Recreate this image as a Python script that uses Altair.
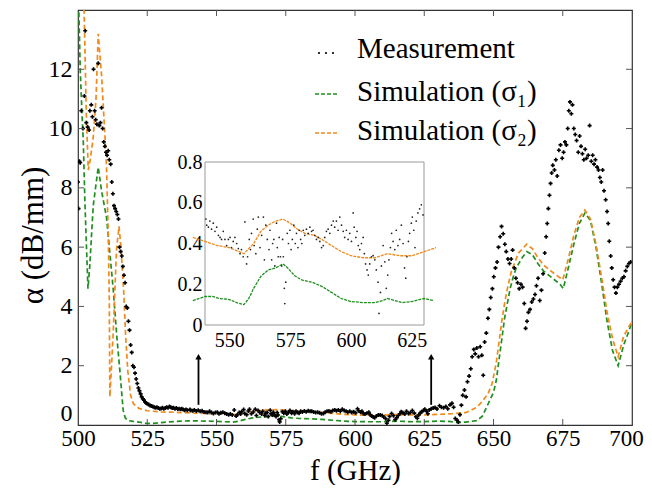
import altair as alt
import pandas as pd

# ---------------- data ----------------
# Measurement (f in GHz, alpha in dB/mm)
meas_f = [500.0, 500.2, 500.5, 500.8, 501.2, 501.8, 502.3, 502.6, 503.0, 503.5, 504.0, 504.3, 504.8, 505.2, 505.6,
          506.0, 506.4, 506.8, 507.3, 507.7, 508.1, 508.5, 508.9, 509.3, 509.7, 510.1, 510.5, 510.9, 511.3, 511.8,
          512.2, 512.6, 513.0, 513.4, 513.8, 514.2, 514.6, 515.0, 515.4, 515.8, 516.2, 516.6, 517.0, 517.4, 517.8,
          518.2, 518.6, 519.0, 519.4, 519.8, 520.2, 520.6, 521.0, 521.4, 521.8, 522.2, 522.6, 523.0, 523.4, 523.8,
          524.2, 524.6, 525.0, 525.5, 526.0, 526.5, 527.0, 527.5, 528.0, 528.5, 529.0, 529.5, 530.0, 530.5, 531.0,
          531.5, 532.0, 532.5, 533.0, 533.5, 534.0, 534.5, 535.0, 535.5, 536.0, 536.5, 537.0, 537.5, 538.0, 538.5,
          539.0, 539.5,
          540.4, 540.7, 541.4, 542.0, 542.7, 543.4, 544.1, 544.8, 545.5, 546.2, 546.8, 547.5, 548.2, 548.9, 549.6,
          550.3, 550.9, 551.6, 552.3, 553.0, 553.7, 554.4, 555.0, 555.7, 556.4, 557.1, 557.5, 558.2, 558.7, 559.1,
          559.8, 560.2, 560.9, 561.5, 561.9, 562.6, 563.3, 564.0, 564.4, 565.0, 565.6, 566.3, 566.7, 567.4, 567.8,
          568.3, 568.7, 569.4, 569.7, 570.1, 570.5, 571.0, 571.5, 571.9, 572.2, 572.6, 572.8, 573.2, 573.8, 574.3,
          574.9, 575.4, 575.9, 576.5, 577.1, 577.6, 578.2, 578.7, 579.3, 579.8, 580.4, 581.0, 581.7, 582.4, 583.1,
          583.8, 584.4, 585.1, 585.8, 586.5, 587.2, 587.9, 588.6, 589.2, 589.9, 590.6, 591.3, 592.0, 592.7, 593.3,
          594.0, 594.7, 595.4, 596.1, 596.8, 597.4, 598.1, 598.8, 599.5, 600.2, 600.9, 601.3, 602.0, 602.5, 603.0,
          603.6, 604.3, 605.0, 605.5, 606.0, 606.6, 607.1, 607.7, 608.4, 609.1, 609.8, 610.4, 611.1, 611.5, 612.1,
          612.5, 613.2, 613.9, 614.5, 615.1, 615.6, 616.2, 616.7, 617.3, 618.0, 618.6, 619.3, 620.0, 620.7, 621.4,
          622.0, 622.5, 623.0, 623.6, 624.1, 624.8, 625.2, 625.8, 626.3, 626.8, 627.5, 628.2, 628.9, 629.6,
          630.5, 631.2, 632.0, 632.8, 633.5, 634.3, 635.0, 635.6, 636.2, 636.8, 637.3, 637.9, 638.4, 638.9, 639.5,
          640.1, 640.6, 641.2, 641.8, 642.3, 642.9, 643.4, 644.0, 644.6, 645.2, 645.8, 646.3, 646.8, 647.4, 648.0,
          648.5, 649.0, 649.6, 650.1, 650.7, 651.3, 651.8, 652.4, 652.9, 653.5, 654.1, 654.6, 655.2, 655.8, 656.4,
          656.9, 657.5, 658.1, 658.7, 659.3, 659.9, 660.5, 661.1, 661.6, 662.1, 662.6, 663.2, 663.8, 664.4, 665.0,
          665.5, 666.1, 666.7, 667.3, 667.9, 668.5, 669.0, 669.4, 669.8, 670.2, 670.6, 671.0, 671.4, 672.0, 672.5,
          673.0, 673.6, 674.2, 674.8, 675.3, 675.8, 676.3, 676.8, 677.2, 677.6, 678.1, 678.5, 679.0, 679.5, 680.0,
          680.6, 681.1, 681.6, 682.1, 682.6, 683.1, 683.6, 684.2, 684.7, 685.3, 685.8, 686.3, 686.8, 687.4, 687.9,
          688.4, 688.9, 689.4, 689.9, 690.5, 691.0, 691.4, 691.8, 692.3, 692.7, 693.2, 693.7, 694.2, 694.7, 695.3,
          695.9, 696.5, 697.1, 697.7, 698.3, 698.9, 699.5]
meas_a = [8.2, 7.3, 8.9, 8.85, 10.6, 10.0, 11.1, 13.3, 10.2, 10.05, 9.95, 10.6, 10.8, 10.4, 12.0,
          10.6, 10.3, 10.15, 12.2, 10.1, 10.2, 10.7, 10.0, 9.55, 9.4, 9.2, 9.1, 9.25, 8.95, 8.8,
          8.2, 7.8, 7.4, 7.3, 7.2, 7.1, 6.95, 6.0, 5.85, 5.7, 5.35, 5.05, 4.8, 4.0, 3.95,
          3.5, 3.2, 2.7, 2.45, 2.0, 1.95, 1.75, 1.55, 1.4, 1.25, 1.15, 1.05, 0.95, 0.88, 0.84,
          0.78, 0.74, 0.72, 0.69, 0.66, 0.64, 0.62, 0.6, 0.58, 0.6, 0.57, 0.55, 0.56, 0.58, 0.55,
          0.57, 0.6, 0.58, 0.62, 0.6, 0.57, 0.58, 0.55, 0.57, 0.54, 0.55, 0.53, 0.55, 0.52, 0.5,
          0.52, 0.5,
          0.52, 0.49, 0.48, 0.51, 0.47, 0.50, 0.46, 0.48, 0.44, 0.43, 0.42, 0.46, 0.42, 0.39, 0.42,
          0.43, 0.38, 0.41, 0.43, 0.40, 0.375, 0.35, 0.37, 0.335, 0.506, 0.30, 0.335, 0.42, 0.37, 0.45,
          0.52, 0.39, 0.35, 0.47, 0.53, 0.38, 0.44, 0.53, 0.32, 0.49, 0.42, 0.37, 0.465, 0.32, 0.40,
          0.42, 0.29, 0.50, 0.38, 0.335, 0.43, 0.335, 0.29, 0.42, 0.335, 0.18, 0.105, 0.21, 0.45, 0.40,
          0.465, 0.37, 0.42, 0.49, 0.40, 0.45, 0.38, 0.465, 0.42, 0.40, 0.465, 0.44, 0.47, 0.45, 0.48,
          0.46, 0.465, 0.44, 0.42, 0.43, 0.41, 0.38, 0.39, 0.43, 0.46, 0.47, 0.45, 0.49, 0.51, 0.48,
          0.51, 0.465, 0.53, 0.49, 0.46, 0.43, 0.465, 0.42, 0.45, 0.41, 0.55, 0.48, 0.43, 0.46, 0.39,
          0.37, 0.40, 0.43, 0.35, 0.30, 0.27, 0.245, 0.30, 0.335, 0.34, 0.32, 0.27, 0.21, 0.057, 0.16,
          0.29, 0.39, 0.31, 0.18, 0.245, 0.32, 0.38, 0.45, 0.41, 0.37, 0.465, 0.39, 0.42, 0.49, 0.40,
          0.28, 0.23, 0.335, 0.41, 0.45, 0.50, 0.53, 0.465, 0.38, 0.51, 0.55, 0.57, 0.59, 0.54,
          0.65, 0.6, 0.58, 0.62, 0.55, 0.68, 0.73, 0.6, 0.22, 0.17, 0.1, 0.35, 0.67, 1.0, 1.18,
          0.95, 1.46, 1.65, 1.9, 2.3, 2.55, 2.4, 2.6, 2.3, 2.64, 2.35, 1.68, 2.8, 3.1, 3.6,
          3.9, 4.3, 4.6, 5.0, 5.3, 5.5, 6.0, 6.35, 6.7, 6.45, 6.1, 5.85, 5.6, 5.45, 5.6,
          5.9, 5.3, 4.95, 4.8, 4.6, 4.75, 4.65, 4.1, 3.26, 3.5, 3.8, 3.9, 4.15, 4.25, 4.4,
          4.7, 4.95, 4.2, 4.55, 5.1, 5.8, 6.35, 6.8, 7.3, 7.75, 8.15, 8.5, 8.76, 8.6, 8.95,
          8.4, 9.27, 9.45, 9.0, 9.2, 9.55, 9.45, 10.0, 10.6, 10.9, 10.5, 10.8, 10.0, 9.8, 9.6,
          9.2, 9.75, 9.4, 9.15, 8.95, 9.3, 9.0, 9.1, 10.1, 8.9, 9.1, 8.8, 8.95, 8.7, 8.6,
          8.35, 8.2, 8.6, 7.9, 7.6, 7.2, 6.8, 6.2, 5.7, 5.3, 4.9, 4.65, 4.45, 4.65, 4.75,
          4.85, 4.95, 5.0, 5.2, 5.35, 5.45, 5.5]

# Simulation (sigma_1), green
sim1_f = [500.0, 500.3, 500.8, 501.4, 501.9, 502.5, 503.1, 503.6, 504.2, 505.5, 507.3, 508.5, 510.3, 511.5,
          512.7, 514.0, 515.1, 516.3, 517.0, 518.0, 520.0, 522.0, 525.0, 528.0, 531.0, 535.0, 540.0, 543.0,
          546.0, 550.0, 553.0, 556.0, 558.0, 560.0, 563.0, 566.0, 569.0, 572.0, 574.0, 577.0, 580.0, 584.0,
          588.0, 592.0, 596.0, 600.0, 605.0, 610.0, 613.0, 615.0, 618.0, 621.0, 625.0, 630.0, 634.0, 637.0,
          640.0, 644.0, 646.0, 648.0, 650.0, 651.0, 652.0, 653.0, 654.0, 655.0, 656.0, 657.0, 658.0, 660.0,
          662.0, 664.0, 666.0, 668.0, 670.0, 672.0, 674.0, 675.2, 677.0, 679.0, 681.0, 683.0, 685.0, 687.0,
          689.0, 691.0, 693.0, 695.0, 697.0, 699.0, 700.0]
sim1_a = [15.0, 14.0, 12.0, 10.6, 9.6, 7.5, 5.9, 4.6, 5.3, 7.4, 8.7, 7.9, 7.0, 5.8,
          4.6, 3.0, 1.85, 0.5, 0.25, 0.15, 0.12, 0.1, 0.05, 0.06, 0.09, 0.12, 0.14, 0.14,
          0.13, 0.125, 0.11, 0.10, 0.13, 0.18, 0.24, 0.27, 0.28, 0.30, 0.28, 0.24, 0.22, 0.21,
          0.19, 0.16, 0.13, 0.115, 0.11, 0.11, 0.12, 0.13, 0.12, 0.11, 0.115, 0.13, 0.12, 0.08,
          0.1, 0.15, 0.3, 0.7, 1.1, 1.5, 2.2, 2.9, 3.6, 4.1, 4.6, 4.95, 5.25, 5.6,
          5.85, 5.75, 5.45, 5.2, 5.05, 4.9, 4.75, 4.6, 5.3, 6.1, 6.8, 7.15, 6.9, 6.0,
          4.8, 3.5, 2.5, 2.0, 2.7, 3.2, 3.5]

# Simulation (sigma_2), orange
sim2_f = [500.0, 501.5, 502.2, 503.0, 503.7, 504.5, 505.5, 506.5, 507.3, 508.5, 509.7, 510.3, 510.9, 511.3,
          511.5, 512.0, 512.7, 513.9, 514.8, 515.5, 516.5, 517.2, 518.0, 519.0, 520.0, 522.0, 525.0, 530.0,
          535.0, 540.0, 545.0, 550.0, 556.0, 560.0, 563.0, 566.0, 569.0, 572.0, 575.0, 578.0, 581.0, 585.0,
          588.0, 592.0, 596.0, 600.0, 605.0, 610.0, 615.0, 620.0, 625.0, 630.0, 635.0, 640.0, 642.0, 644.0,
          646.0, 648.0, 649.5, 651.0, 652.0, 653.0, 654.0, 655.0, 656.5, 659.0, 662.0, 664.0, 666.0, 668.0,
          670.0, 672.0, 675.0, 677.0, 679.0, 681.0, 683.0, 685.0, 687.0, 689.0, 691.0, 693.0, 695.0, 697.0,
          700.0]
sim2_a = [17.0, 15.5, 14.0, 10.5, 8.6, 9.0, 9.7, 11.0, 13.2, 11.8, 9.8, 8.7, 6.5, 4.2,
          0.95, 1.8, 3.1, 5.9, 6.7, 6.0, 4.5, 3.0, 1.8, 1.0, 0.72, 0.56, 0.48, 0.44,
          0.43, 0.41, 0.39, 0.38, 0.35, 0.40, 0.46, 0.49, 0.51, 0.52, 0.50, 0.47, 0.45, 0.44,
          0.42, 0.39, 0.36, 0.34, 0.33, 0.33, 0.35, 0.34, 0.34, 0.36, 0.38, 0.42, 0.5, 0.6,
          0.8, 1.05, 1.4, 2.1, 2.8, 3.5, 4.1, 4.6, 5.2, 5.8, 6.1, 5.95, 5.65, 5.4,
          5.25, 5.1, 4.9, 5.6, 6.4, 7.0, 7.25, 6.95, 6.1, 5.0, 3.8, 2.9, 2.3, 3.0,
          3.5]

series_names = ["Simulation (σ₁)", "Simulation (σ₂)"]
legend_labels = ["Measurement", "Simulation (σ₁)", "Simulation (σ₂)"]

x_ticks = [500, 525, 550, 575, 600, 625, 650, 675, 700]
y_ticks = [0, 2, 4, 6, 8, 10, 12]
inset_x_ticks = [550, 575, 600, 625]
inset_y_ticks = [0, 0.2, 0.4, 0.6, 0.8]
arrow_f = [543.5, 627.5]
arrow_lo = [0.68, 0.68]
arrow_hi = [2.3, 2.3]

# ---------------- styling ----------------
FONT = "Liberation Serif"
GREEN = "#1f8f1f"
ORANGE = "#f08a1c"
W, H = 554, 415
X_DOM = [500, 700]
Y_DOM = [0, 14]
IN_X_DOM = [540, 630]
IN_Y_DOM = [0, 0.8]
IN_X_RANGE = [127, 346]
IN_Y_RANGE = [315, 152]

meas = pd.DataFrame({"f": meas_f, "a": meas_a})
sim = pd.concat([
    pd.DataFrame({"f": sim1_f, "a": sim1_a, "s": series_names[0]}),
    pd.DataFrame({"f": sim2_f, "a": sim2_a, "s": series_names[1]}),
], ignore_index=True)

xs = alt.Scale(domain=X_DOM, nice=False, zero=False)
ys = alt.Scale(domain=Y_DOM, nice=False, zero=False)
color_scale = alt.Scale(domain=series_names, range=[GREEN, ORANGE])

x_axis = alt.Axis(values=x_ticks, tickSize=0, domain=False, grid=False, labelFont=FONT, labelFontSize=23,
                  labelColor="black", labelPadding=2, labelFlush=False, labelOverlap=False,
                  labelOffset={"condition": {"test": "datum.value == 700", "value": -6}, "value": 0},
                  title="f (GHz)", titleFont=FONT, titleFontSize=29, titleFontWeight="normal",
                  titleColor="black", titleBaseline="alphabetic", titleY=54)
y_axis = alt.Axis(values=y_ticks, tickSize=0, domain=False, grid=False, labelFont=FONT, labelFontSize=24,
                  labelColor="black", labelPadding=6, labelFlush=True, labelOverlap=False,
                  title="α (dB/mm)", titleFont=FONT, titleFontSize=31, titleFontWeight="normal",
                  titleColor="black", titleAngle=-90, titleBaseline="alphabetic", titleX=-36, titleY=225)

sim_lines = alt.Chart(sim).mark_line(strokeDash=[5, 3], strokeWidth=1.7, clip=True).encode(
    x=alt.X("f:Q", scale=xs, axis=x_axis),
    y=alt.Y("a:Q", scale=ys, axis=y_axis),
    color=alt.Color("s:N", scale=color_scale, legend=None),
    detail="s:N",
    order="f:Q",
)
meas_pts = alt.Chart(meas).mark_point(shape="cross", filled=True, size=16, color="black", opacity=1,
                                      clip=True).encode(x="f:Q", y="a:Q")

# inward ticks
xt = pd.DataFrame({"f": x_ticks[1:-1]})
yt = pd.DataFrame({"a": y_ticks[1:]})
TICKC = "#555555"
tick_b = alt.Chart(xt).mark_rule(color=TICKC).encode(x="f:Q", y=alt.value(H), y2=alt.value(H - 6))
tick_t = alt.Chart(xt).mark_rule(color=TICKC).encode(x="f:Q", y=alt.value(0), y2=alt.value(6))
tick_l = alt.Chart(yt).mark_rule(color=TICKC).encode(y="a:Q", x=alt.value(0), x2=alt.value(6))
tick_r = alt.Chart(yt).mark_rule(color=TICKC).encode(y="a:Q", x=alt.value(W), x2=alt.value(W - 6))

# arrows
arr = pd.DataFrame({"f": arrow_f, "a": arrow_lo, "a2": arrow_hi})
arrow_shaft = alt.Chart(arr).mark_rule(color="black", strokeWidth=1.8).encode(x="f:Q", y="a:Q", y2="a2:Q")
arrow_head = alt.Chart(arr).mark_point(shape="triangle-up", filled=True, size=40, color="black",
                                       opacity=1).encode(x="f:Q", y="a2:Q")

# legend (manual)
LEG_TX = 279
LEG_Y = [39, 82, 121]
leg_text = alt.layer(*[
    alt.Chart(pd.DataFrame({"t": [lab]})).mark_text(align="left", baseline="middle", font=FONT, fontSize=29,
                                                    color="black").encode(
        x=alt.value(LEG_TX), y=alt.value(LEG_Y[i]), text="t:N")
    for i, lab in enumerate(legend_labels)
])
leg_dots = alt.layer(*[
    alt.Chart(pd.DataFrame({"k": [0]})).mark_point(shape="circle", filled=True, size=5, color="black",
                                                   opacity=1).encode(x=alt.value(px), y=alt.value(LEG_Y[0] + 4))
    for px in (241, 248, 255)
])
leg_g = alt.Chart(pd.DataFrame({"k": [0]})).mark_rule(color=GREEN, strokeDash=[4, 2], strokeWidth=1.5).encode(
    x=alt.value(237), x2=alt.value(261), y=alt.value(LEG_Y[1] + 2))
leg_o = alt.Chart(pd.DataFrame({"k": [0]})).mark_rule(color=ORANGE, strokeDash=[4, 2], strokeWidth=1.5).encode(
    x=alt.value(237), x2=alt.value(261), y=alt.value(LEG_Y[2] + 2))

main = alt.layer(sim_lines, meas_pts, tick_b, tick_t, tick_l, tick_r, arrow_shaft, arrow_head,
                 leg_text, leg_dots, leg_g, leg_o)

# ---------------- inset ----------------
isx = alt.Scale(domain=IN_X_DOM, range=IN_X_RANGE, nice=False, zero=False)
isy = alt.Scale(domain=IN_Y_DOM, range=IN_Y_RANGE, nice=False, zero=False)
in_x_axis = alt.Axis(values=inset_x_ticks, orient="bottom", offset=-(H - IN_Y_RANGE[0]), tickSize=0,
                     domain=False, grid=False, labelFont=FONT, labelFontSize=20, labelColor="black",
                     labelPadding=5, labelFlush=False, labelOverlap=False, title=None)
in_y_axis = alt.Axis(values=inset_y_ticks, orient="left", offset=-IN_X_RANGE[0], tickSize=0, format="~g",
                     domain=False, grid=False, labelFont=FONT, labelFontSize=20, labelColor="black",
                     labelPadding=3, labelFlush=False, labelOverlap=False, title=None)

frame = pd.DataFrame({"f": [IN_X_DOM[0]], "f2": [IN_X_DOM[1]], "a": [IN_Y_DOM[0]], "a2": [IN_Y_DOM[1]]})
in_box = alt.Chart(frame).mark_rect(fill="white", stroke="#999999", strokeWidth=1).encode(
    x=alt.X("f:Q", scale=isx, axis=in_x_axis), x2="f2:Q",
    y=alt.Y("a:Q", scale=isy, axis=in_y_axis), y2="a2:Q")
in_lines = alt.Chart(sim).transform_filter(
    (alt.datum.f >= IN_X_DOM[0] - 5) & (alt.datum.f <= IN_X_DOM[1] + 5)
).mark_line(strokeWidth=1.3, strokeDash=[3, 1], clip=True).encode(
    x="f:Q", y="a:Q", color=alt.Color("s:N", scale=color_scale, legend=None), detail="s:N", order="f:Q")
in_pts = alt.Chart(meas).transform_filter(
    (alt.datum.f >= IN_X_DOM[0]) & (alt.datum.f <= IN_X_DOM[1])
).mark_point(shape="circle", filled=True, size=3, color="#222222", opacity=1).encode(x="f:Q", y="a:Q")

inset = alt.layer(in_box, in_lines, in_pts)

chart = alt.layer(main, inset).resolve_scale(x="independent", y="independent").properties(
    width=W, height=H, autosize="none",
    padding={"left": 70, "top": 2, "right": 12, "bottom": 60},
).configure_view(stroke="#333333", strokeWidth=1.2)

chart.save("out.html", embed_options={"renderer": "svg", "actions": False})
